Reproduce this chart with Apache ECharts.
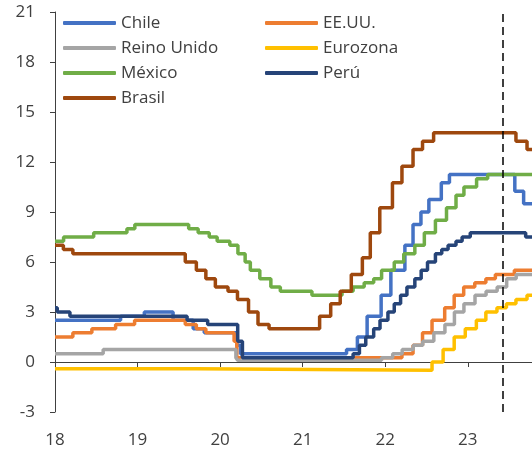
<!DOCTYPE html>
<html>
<head>
<meta charset="utf-8">
<script src="https://cdn.jsdelivr.net/npm/echarts@6/dist/echarts.min.js"></script>
<style>
  html, body { margin: 0; padding: 0; background: #fff; }
  #main { width: 532px; height: 452px; }
</style>
</head>
<body>
<div id="main"></div>
<script>
// tasas de política monetaria (%), fecha de cada cambio
var chileDates = ['2018-01-01', '2018-10-18', '2019-01-31', '2019-06-07', '2019-09-04', '2019-10-23', '2020-03-16', '2020-03-31', '2021-07-14', '2021-08-31', '2021-10-13', '2021-12-14', '2022-01-26', '2022-03-29', '2022-05-04', '2022-06-08', '2022-07-13', '2022-09-06', '2022-10-12', '2023-07-28', '2023-09-05'];
var chileRates = [2.5, 2.75, 3.0, 2.5, 2.0, 1.75, 1.0, 0.5, 0.75, 1.5, 2.75, 4.0, 5.5, 7.0, 8.25, 9.0, 9.75, 10.75, 11.25, 10.25, 9.5];

var usaDates = ['2018-01-01', '2018-03-21', '2018-06-13', '2018-09-26', '2018-12-19', '2019-07-31', '2019-09-18', '2019-10-30', '2020-03-03', '2020-03-15', '2022-03-16', '2022-05-04', '2022-06-15', '2022-07-27', '2022-09-21', '2022-11-02', '2022-12-14', '2023-02-01', '2023-03-22', '2023-05-03', '2023-07-26'];
var usaRates = [1.5, 1.75, 2.0, 2.25, 2.5, 2.25, 2.0, 1.75, 1.25, 0.25, 0.5, 1.0, 1.75, 2.5, 3.25, 4.0, 4.5, 4.75, 5.0, 5.25, 5.5];

var ukDates = ['2018-01-01', '2018-08-02', '2020-03-11', '2020-03-19', '2021-12-16', '2022-02-03', '2022-03-17', '2022-05-05', '2022-06-16', '2022-08-04', '2022-09-22', '2022-11-03', '2022-12-15', '2023-02-02', '2023-03-23', '2023-05-11', '2023-06-22', '2023-08-03'];
var ukRates = [0.5, 0.75, 0.25, 0.1, 0.25, 0.5, 0.75, 1.0, 1.25, 1.75, 2.25, 3.0, 3.5, 4.0, 4.25, 4.5, 5.0, 5.25];

var euroDates = ['2018-01-01', '2019-09-18', '2022-07-27', '2022-09-14', '2022-11-02', '2022-12-21', '2023-02-08', '2023-03-22', '2023-05-10', '2023-06-21', '2023-08-02', '2023-09-20'];
var euroRates = [-0.4, -0.5, 0.0, 0.75, 1.5, 2.0, 2.5, 3.0, 3.25, 3.5, 3.75, 4.0];

var mexicoDates = ['2018-01-01', '2018-02-08', '2018-06-21', '2018-11-15', '2018-12-20', '2019-08-15', '2019-09-26', '2019-11-14', '2019-12-19', '2020-02-13', '2020-03-20', '2020-04-21', '2020-05-14', '2020-06-25', '2020-08-13', '2020-09-24', '2021-02-11', '2021-06-24', '2021-08-12', '2021-09-30', '2021-11-11', '2021-12-16', '2022-02-10', '2022-03-24', '2022-05-12', '2022-06-23', '2022-08-11', '2022-09-29', '2022-11-10', '2022-12-15', '2023-02-09', '2023-03-30'];
var mexicoRates = [7.25, 7.5, 7.75, 8.0, 8.25, 8.0, 7.75, 7.5, 7.25, 7.0, 6.5, 6.0, 5.5, 5.0, 4.5, 4.25, 4.0, 4.25, 4.5, 4.75, 5.0, 5.5, 6.0, 6.5, 7.0, 7.75, 8.5, 9.25, 10.0, 10.5, 11.0, 11.25];

var peruDates = ['2018-01-01', '2018-01-11', '2018-03-08', '2019-08-08', '2019-11-07', '2020-03-19', '2020-04-09', '2021-08-12', '2021-09-09', '2021-10-07', '2021-11-11', '2021-12-09', '2022-01-13', '2022-02-10', '2022-03-10', '2022-04-07', '2022-05-12', '2022-06-09', '2022-07-07', '2022-08-11', '2022-09-08', '2022-10-06', '2022-11-10', '2022-12-07', '2023-01-12', '2023-09-14'];
var peruRates = [3.25, 3.0, 2.75, 2.5, 2.25, 1.25, 0.25, 0.5, 1.0, 1.5, 2.0, 2.5, 3.0, 3.5, 4.0, 4.5, 5.0, 5.5, 6.0, 6.5, 6.75, 7.0, 7.25, 7.5, 7.75, 7.5];

var brasilDates = ['2018-01-01', '2018-02-07', '2018-03-21', '2019-07-31', '2019-09-18', '2019-10-30', '2019-12-11', '2020-02-05', '2020-03-18', '2020-05-06', '2020-06-17', '2020-08-05', '2021-03-17', '2021-05-05', '2021-06-16', '2021-08-04', '2021-09-22', '2021-10-27', '2021-12-08', '2022-02-02', '2022-03-16', '2022-05-04', '2022-06-15', '2022-08-03', '2023-08-02', '2023-09-20'];
var brasilRates = [7.0, 6.75, 6.5, 6.0, 5.5, 5.0, 4.5, 4.25, 3.75, 3.0, 2.25, 2.0, 2.75, 3.5, 4.25, 5.25, 6.25, 7.75, 9.25, 10.75, 11.75, 12.75, 13.25, 13.75, 13.25, 12.75];

var yearTicks = [18, 19, 20, 21, 22, 23];
var endDate = '2023-10-12';
var cutDate = '2023-06-03';

function toYear(s) {
  var d = new Date(s + 'T00:00:00Z');
  var y = d.getUTCFullYear();
  var a = Date.UTC(y, 0, 1), b = Date.UTC(y + 1, 0, 1);
  return y + (d.getTime() - a) / (b - a);
}

var xMin = 2000 + yearTicks[0];
var xMax = toYear(endDate);

function steps(dates, rates) {
  var pts = dates.map(function (d, i) { return [toYear(d), rates[i]]; });
  pts.push([xMax, rates[rates.length - 1]]);
  return pts;
}

function serie(name, color, dates, rates) {
  return {
    name: name,
    type: 'line',
    step: 'end',
    showSymbol: false,
    symbol: 'none',
    lineStyle: { color: color, width: 3.5 },
    itemStyle: { color: color },
    data: steps(dates, rates)
  };
}

var chart = echarts.init(document.getElementById('main'));

var series = [
  serie('Chile', '#4472C4', chileDates, chileRates),
  serie('EE.UU.', '#ED7D31', usaDates, usaRates),
  serie('Reino Unido', '#A5A5A5', ukDates, ukRates),
  serie('Eurozona', '#FFC000', euroDates, euroRates),
  serie('México', '#70AD47', mexicoDates, mexicoRates),
  serie('Perú', '#264478', peruDates, peruRates),
  serie('Brasil', '#9E480E', brasilDates, brasilRates)
];
// línea vertical punteada
series[6].markLine = {
  silent: true,
  symbol: 'none',
  label: { show: false },
  lineStyle: { color: '#000', type: [8, 5], width: 1.5 },
  data: [{ xAxis: toYear(cutDate) }]
};

var legendText = { fontSize: 17, color: '#404040', lineHeight: 25 };

var option = {
  animation: false,
  textStyle: { fontFamily: 'Open Sans' },
  legend: [
    {
      orient: 'vertical', left: 63, top: 10.5, padding: 0, itemGap: 0,
      itemWidth: 53, itemHeight: 4, icon: 'roundRect',
      textStyle: legendText,
      data: ['Chile', 'Reino Unido', 'México', 'Brasil']
    },
    {
      orient: 'vertical', left: 265, top: 10.5, padding: 0, itemGap: 0,
      itemWidth: 53, itemHeight: 4, icon: 'roundRect',
      textStyle: legendText,
      data: ['EE.UU.', 'Eurozona', 'Perú']
    }
  ],
  grid: { left: 55, right: 0, top: 12, bottom: 40, containLabel: false, outerBoundsMode: 'none' },
  xAxis: {
    type: 'value',
    position: 'bottom',
    offset: -50, // eje horizontal en el cero
    min: xMin,
    max: xMax,
    interval: 1,
    axisLine: { onZero: false, lineStyle: { color: '#404040', width: 1 } },
    axisTick: { show: true, length: 5, lineStyle: { color: '#404040' } },
    splitLine: { show: false },
    axisLabel: {
      margin: 70,
      fontSize: 17,
      color: '#404040',
      showMaxLabel: false,
      formatter: function (v) {
        var r = Math.round(v);
        if (Math.abs(v - r) > 1e-6) return '';
        return yearTicks.indexOf(r - 2000) >= 0 ? String(r - 2000) : '';
      }
    }
  },
  yAxis: {
    type: 'value',
    min: -3,
    max: 21,
    interval: 3,
    axisLine: { show: true, onZero: false, lineStyle: { color: '#404040', width: 1 } },
    axisTick: { show: true, length: 5, lineStyle: { color: '#404040' } },
    splitLine: { show: false },
    axisLabel: { margin: 20, fontSize: 17, color: '#404040' }
  },
  series: series
};

chart.setOption(option);
</script>
</body>
</html>
